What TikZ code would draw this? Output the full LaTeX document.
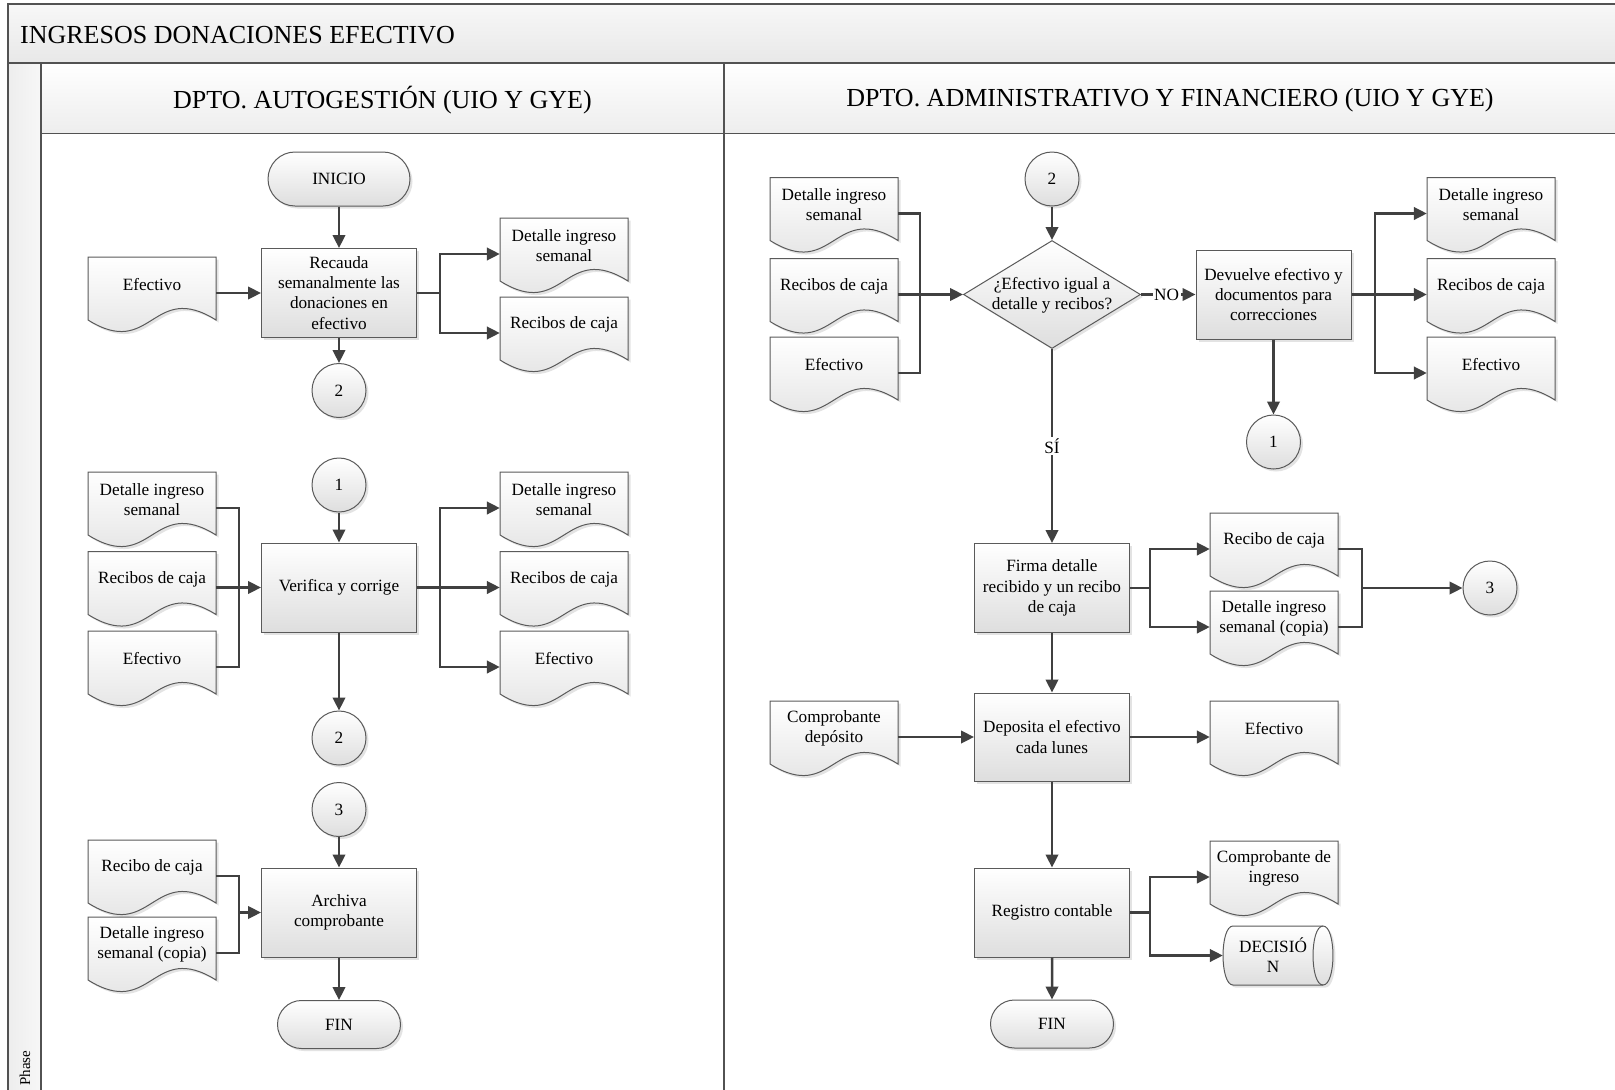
\documentclass[tikz,border=0pt]{standalone}
\usepackage{fontspec}
\setmainfont{Liberation Serif}
\usetikzlibrary{arrows.meta,shapes.geometric,shapes.misc,shadows}
\definecolor{lncol}{HTML}{404040}
\definecolor{bdcol}{HTML}{5A5A5A}
\newcommand\bodyfont{\fontsize{17.2}{20.2}\selectfont}
\newcommand\bigfont{\fontsize{26}{30}\selectfont}
\tikzset{
  shapefill/.style={draw=bdcol, line width=1pt, top color=white, bottom color=black!13,
     drop shadow={shadow xshift=2.5pt, shadow yshift=-2.5pt, opacity=0.22}},
  procbox/.style={shapefill, rectangle, minimum width=155, minimum height=89, inner sep=2pt, align=center, font=\bodyfont},
  term/.style={shapefill, rounded rectangle, inner sep=0pt, font=\bodyfont},
  conncirc/.style={shapefill, circle, minimum size=54, inner sep=0pt, font=\bodyfont},
  docbody/.style={rectangle, minimum width=128, minimum height=72, inner sep=0pt},
  doctext/.style={align=center, font=\bodyfont, inner sep=0pt},
  arr/.style={draw=lncol, line width=2.5pt, -{Triangle[length=13pt,width=12.5pt]}},
  lin/.style={draw=lncol, line width=2.5pt},
  frameline/.style={draw=black!68, line width=1.8pt},
  lbl/.style={fill=white, font=\bodyfont, inner sep=1.5pt},
}
\newcommand\docshape[4]{%
  \path[shapefill] (#2-64,#3) -- (#2+64,#3) -- (#2+64,#3+63)
    .. controls (#2,#3+23) and (#2,#3+103) .. (#2-64,#3+63) -- cycle;
  \node[docbody] (#1) at (#2,#3+36) {};
  \node[doctext] (#1t) at (#2,#3+27.5) {#4};
}
\begin{document}
\begin{tikzpicture}[x=1pt,y=-1pt]
\fill[white] (0,0) rectangle (1615,1090);
\useasboundingbox (0,0) rectangle (1615,1090);
% frame
\path[top color=white!97!black, bottom color=black!9] (8,4) rectangle (1620,63);
\path[top color=white, bottom color=black!7] (41,63) rectangle (1620,133.5);
\path[left color=black!7, right color=black!3] (8,63) rectangle (41,1095);
\draw[frameline] (8,1095) -- (8,4) -- (1620,4);
\draw[frameline] (8,63) -- (1620,63);
\draw[frameline] (41,63) -- (41,1095);
\draw[frameline] (41,133.5) -- (1620,133.5);
\draw[frameline] (724,63) -- (724,1095);
\node[font=\bigfont, anchor=west, inner sep=0pt] (title) at (20,35) {INGRESOS DONACIONES EFECTIVO};
\node[font=\bigfont] (h1) at (382.5,100.5) {DPTO. AUTOGESTIÓN (UIO Y GYE)};
\node[font=\bigfont] (h2) at (1170,100.5) {DPTO. ADMINISTRATIVO Y FINANCIERO (UIO Y GYE)};
\node[font=\fontsize{15}{18}\selectfont, rotate=90] (phase) at (25,1068) {Phase};

% ===== left lane, top
\node[term, minimum width=142, minimum height=54] (inicio) at (339,179) {INICIO};
\node[procbox] (recauda) at (339,293) {Recauda\\semanalmente las\\donaciones en\\efectivo};
\docshape{efA}{152}{257}{Efectivo}
\docshape{detA}{564}{218}{Detalle ingreso\\semanal}
\docshape{recA}{564}{297}{Recibos de caja}
\node[conncirc] (c2a) at (339,390.5) {2};
\coordinate (fA) at (440,293);
\draw[arr] (inicio) -- (recauda);
\draw[arr] (efA.east) -- (efA.east -| recauda.west);
\draw[lin] (recauda.east) -- (fA);
\draw[arr] (fA) |- (detA.west);
\draw[arr] (fA) |- (recA.west);
\draw[arr] (recauda) -- (c2a);

% ===== left lane, middle
\node[conncirc] (c1a) at (339,485) {1};
\node[procbox] (verif) at (339,587.5) {Verifica y corrige};
\docshape{detB}{152}{472}{Detalle ingreso\\semanal}
\docshape{recB}{152}{551.5}{Recibos de caja}
\docshape{efB}{152}{631}{Efectivo}
\docshape{detC}{564}{472}{Detalle ingreso\\semanal}
\docshape{recC}{564}{551.5}{Recibos de caja}
\docshape{efC}{564}{631}{Efectivo}
\node[conncirc] (c2b) at (339,738) {2};
\coordinate (mB) at (239,587.5);
\coordinate (fC) at (440,587.5);
\draw[lin] (detB.east) -| (mB);
\draw[lin] (efB.east) -| (mB);
\draw[lin] (recB.east) -- (mB);
\draw[arr] (mB) -- (verif.west);
\draw[lin] (verif.east) -- (fC);
\draw[arr] (fC) |- (detC.west);
\draw[arr] (fC) -- (recC.west);
\draw[arr] (fC) |- (efC.west);
\draw[arr] (c1a) -- (verif);
\draw[arr] (verif) -- (c2b);

% ===== left lane, bottom
\node[conncirc] (c3a) at (339,809.5) {3};
\node[procbox] (archiva) at (339,912.5) {Archiva\\comprobante};
\docshape{recD}{152}{840}{Recibo de caja}
\docshape{detD}{152}{917}{Detalle ingreso\\semanal (copia)}
\node[term, minimum width=123, minimum height=48] (finA) at (339,1024.5) {FIN};
\coordinate (mD) at (239,912.5);
\draw[lin] (recD.east) -| (mD);
\draw[lin] (detD.east) -| (mD);
\draw[arr] (mD) -- (archiva.west);
\draw[arr] (c3a) -- (archiva);
\draw[arr] (archiva) -- (finA);

% ===== right lane, top
\node[conncirc] (c2c) at (1052,179) {2};
\node[diamond, shapefill, minimum width=177, minimum height=108, inner sep=0pt] (dec1) at (1052,294.5) {};
\node[doctext] (dec1t) at (1052,295.5) {¿Efectivo igual a\\detalle y recibos?};
\docshape{detE}{834}{177.5}{Detalle ingreso\\semanal}
\docshape{recE}{834}{258.5}{Recibos de caja}
\docshape{efE}{834}{337}{Efectivo}
\coordinate (mE) at (920,294.5);
\draw[lin] (detE.east) -| (mE);
\draw[lin] (efE.east) -| (mE);
\draw[lin] (recE.east) -- (mE);
\draw[arr] (mE) -- (dec1.west);
\draw[arr] (c2c) -- (dec1.north);
\node[procbox] (devuelve) at (1273.5,294.5) {Devuelve efectivo y\\documentos para\\correcciones};
\draw[arr] (dec1.east) -- (devuelve.west) node[lbl, pos=0.47] (no) {NO};
\docshape{detF}{1491}{177.5}{Detalle ingreso\\semanal}
\docshape{recF}{1491}{258.5}{Recibos de caja}
\docshape{efF}{1491}{337}{Efectivo}
\coordinate (fF) at (1375,294.5);
\draw[lin] (devuelve.east) -- (fF);
\draw[arr] (fF) |- (detF.west);
\draw[arr] (fF) -- (recF.west);
\draw[arr] (fF) |- (efF.west);
\node[conncirc] (c1b) at (1273.5,442) {1};
\draw[arr] (devuelve) -- (c1b);

% ===== right lane, Firma
\node[procbox] (firma) at (1052,588) {Firma detalle\\recibido y un recibo\\de caja};
\draw[arr] (dec1.south) -- (firma.north) node[lbl, pos=0.5] (si) {SÍ};
\docshape{recG}{1274}{513}{Recibo de caja}
\docshape{detG}{1274}{591}{Detalle ingreso\\semanal (copia)}
\node[conncirc] (c3b) at (1490,588) {3};
\coordinate (fG) at (1150,588);
\coordinate (mG) at (1362,588);
\draw[lin] (firma.east) -- (fG);
\draw[arr] (fG) |- (recG.west);
\draw[arr] (fG) |- (detG.west);
\draw[lin] (recG.east) -| (mG);
\draw[lin] (detG.east) -| (mG);
\draw[arr] (mG) -- (c3b);

% ===== Deposita
\node[procbox, minimum height=88] (deposita) at (1052,737) {Deposita el efectivo\\cada lunes};
\docshape{compH}{834}{701}{Comprobante\\depósito}
\docshape{efH}{1274}{701}{Efectivo}
\draw[arr] (firma) -- (deposita);
\draw[arr] (compH.east) -- (deposita.west);
\draw[arr] (deposita.east) -- (efH.west);

% ===== Registro
\node[procbox] (registro) at (1052,912.5) {Registro contable};
\docshape{compI}{1274}{841}{Comprobante de\\ingreso}
\path[shapefill] (1233,926) -- (1323,926) .. controls (1336.3,926) and (1336.3,985) .. (1323,985)
   -- (1233,985) .. controls (1219.7,985) and (1219.7,926) .. (1233,926) -- cycle;
\draw[draw=bdcol, line width=1pt] (1323,926) .. controls (1309.7,926) and (1309.7,985) .. (1323,985);
\node[rectangle, minimum width=100, minimum height=59, inner sep=0pt, align=center, font=\bodyfont] (decI) at (1273,955.5) {DECISIÓ\\N};
\coordinate (fI) at (1150,912.5);
\draw[lin] (registro.east) -- (fI);
\draw[arr] (fI) |- (compI.west);
\draw[arr] (fI) |- (decI.west);
\node[term, minimum width=123, minimum height=48] (finB) at (1052,1024) {FIN};
\draw[arr] (deposita) -- (registro);
\draw[arr] (registro) -- (finB);
\end{tikzpicture}
\end{document}
